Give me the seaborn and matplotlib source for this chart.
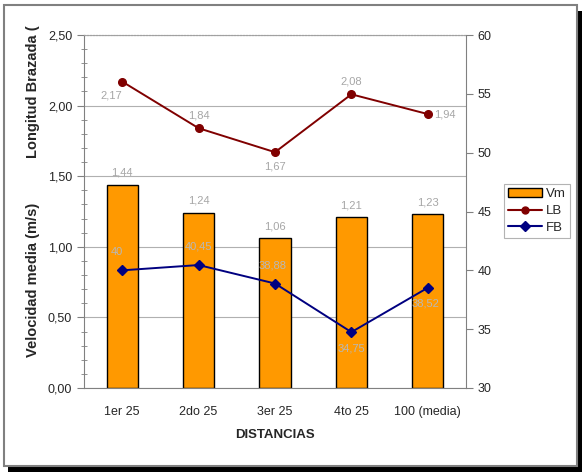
import matplotlib
matplotlib.use("Agg")
import matplotlib.pyplot as plt
import matplotlib.patches as mpatches
from matplotlib.lines import Line2D
from matplotlib.ticker import MultipleLocator
import seaborn as sns
import pandas as pd

sns.set_style("white")
plt.rcParams['font.family'] = ['Liberation Sans', 'DejaVu Sans']

# Data
distancias = ['1er 25', '2do 25', '3er 25', '4to 25', '100 (media)']
vm = [1.44, 1.24, 1.06, 1.21, 1.23]
lb = [2.17, 1.84, 1.67, 2.08, 1.94]
fb = [40, 40.45, 38.88, 34.75, 38.52]

df = pd.DataFrame({'DISTANCIAS': distancias, 'Vm': vm, 'LB': lb, 'FB': fb})

fig = plt.figure(figsize=(5.85, 4.72), dpi=100)
ax = fig.add_axes([84 / 585, 1 - 388 / 472, 382 / 585, 353 / 472])
ax2 = ax.twinx()

# bars (velocidad media)
sns.barplot(data=df, x='DISTANCIAS', y='Vm', ax=ax, color='#FF9900',
            edgecolor='black', linewidth=1, width=0.41, saturation=1, zorder=2)
# longitud brazada on left axis
ax.plot(range(len(distancias)), df['LB'], color='#800000', marker='o',
        markersize=5.5, linewidth=1.4, zorder=4)
# frecuencia brazada on right axis
ax2.plot(range(len(distancias)), df['FB'], color='#000080', marker='D',
         markersize=5.5, linewidth=1.4, zorder=4)

def fmt(v):
    s = ('%.2f' % v).rstrip('0').rstrip('.')
    return s.replace('.', ',')

lab_col = '#A6A6A6'
for i, v in enumerate(vm):
    ax.annotate(fmt(v), (i, v), xytext=(0, 5), textcoords='offset points',
                ha='center', va='bottom', fontsize=8, color=lab_col)
lb_off = [(-8, -10), (0, 9), (0, -10), (0, 9), (12, 0)]
for i, v in enumerate(lb):
    ax.annotate(fmt(v), (i, v), xytext=lb_off[i], textcoords='offset points',
                ha='center', va='center', fontsize=8, color=lab_col)
fb_off = [(-4, 13), (0, 13), (-2, 13), (0, -12), (-2, -11)]
for i, v in enumerate(fb):
    ax2.annotate(fmt(v), (i, v), xytext=fb_off[i], textcoords='offset points',
                 ha='center', va='center', fontsize=8, color='#B8B8B8')

# axes
ax.set_xlim(-0.5, len(distancias) - 0.5)
ax.set_ylim(0, 2.5)
ax2.set_ylim(30, 60)
ax.yaxis.set_major_locator(MultipleLocator(0.5))
ax.yaxis.set_minor_locator(MultipleLocator(0.1))
ax2.yaxis.set_major_locator(MultipleLocator(5))
ax.set_yticklabels([('%.2f' % t).replace('.', ',') for t in ax.get_yticks()])
ax.grid(axis='y', color='#B0B0B0', linewidth=0.8, zorder=0)
ax.set_axisbelow(True)

ax.set_xticks(range(len(distancias)))
ax.set_xticklabels(distancias)
ax.set_xticks([i + 0.5 for i in range(-1, len(distancias))], minor=True)
ax.tick_params(axis='x', which='major', length=0, pad=13, labelsize=9)
ax.tick_params(axis='x', which='minor', length=4, direction='out', color='#808080')
ax.tick_params(axis='y', which='major', length=5, direction='out', labelsize=9,
               color='#808080')
ax.tick_params(axis='y', which='minor', length=5, direction='inout', color='#808080')
ax2.tick_params(axis='y', length=5, direction='out', labelsize=9, color='#808080')

for sp in ['left', 'bottom']:
    ax.spines[sp].set_color('#808080')
ax.spines['top'].set_color('#A0A0A0')
ax.spines['top'].set_linestyle(':')
ax.spines['right'].set_visible(False)
for sp in ['left', 'bottom']:
    ax2.spines[sp].set_visible(False)
ax2.spines['right'].set_color('#808080')
ax2.spines['top'].set_color('#A0A0A0')
ax2.spines['top'].set_linestyle(':')

ax.set_xlabel('DISTANCIAS', fontsize=9.5, fontweight='bold', labelpad=8)
ax.set_ylabel('')
ax2.set_ylabel('')
fig.text(0.057, 1 - 280 / 472, 'Velocidad media (m/s)', rotation=90,
         ha='center', va='center', fontsize=10.5, fontweight='bold')
fig.text(0.057, 1 - 92 / 472, 'Longitud Brazada (', rotation=90,
         ha='center', va='center', fontsize=10.5, fontweight='bold')

# legend
handles = [mpatches.Patch(facecolor='#FF9900', edgecolor='black', label='Vm'),
           Line2D([0], [0], color='#800000', marker='o', markersize=5, label='LB'),
           Line2D([0], [0], color='#000080', marker='D', markersize=5, label='FB')]
leg = fig.legend(handles=handles, loc='center left',
                 bbox_to_anchor=(504 / 585, 1 - 211 / 472), fontsize=9.5,
                 frameon=True, fancybox=False, edgecolor='#A0A0A0',
                 handlelength=2.6, handletextpad=0.3, borderpad=0.3,
                 labelspacing=0.35, borderaxespad=0)
leg.get_frame().set_linewidth(0.8)

# outer frame with shadow
fig.patches.append(mpatches.Rectangle((8 / 585, 0.5 / 472), 574 / 585, 461 / 472,
                                      transform=fig.transFigure, facecolor='black',
                                      edgecolor='none', zorder=-2))
fig.patches.append(mpatches.Rectangle((4 / 585, 6 / 472), 573 / 585, 461 / 472,
                                      transform=fig.transFigure, facecolor='white',
                                      edgecolor='#808080', linewidth=1.5, zorder=-1))

fig.savefig('out.png', dpi=100)
